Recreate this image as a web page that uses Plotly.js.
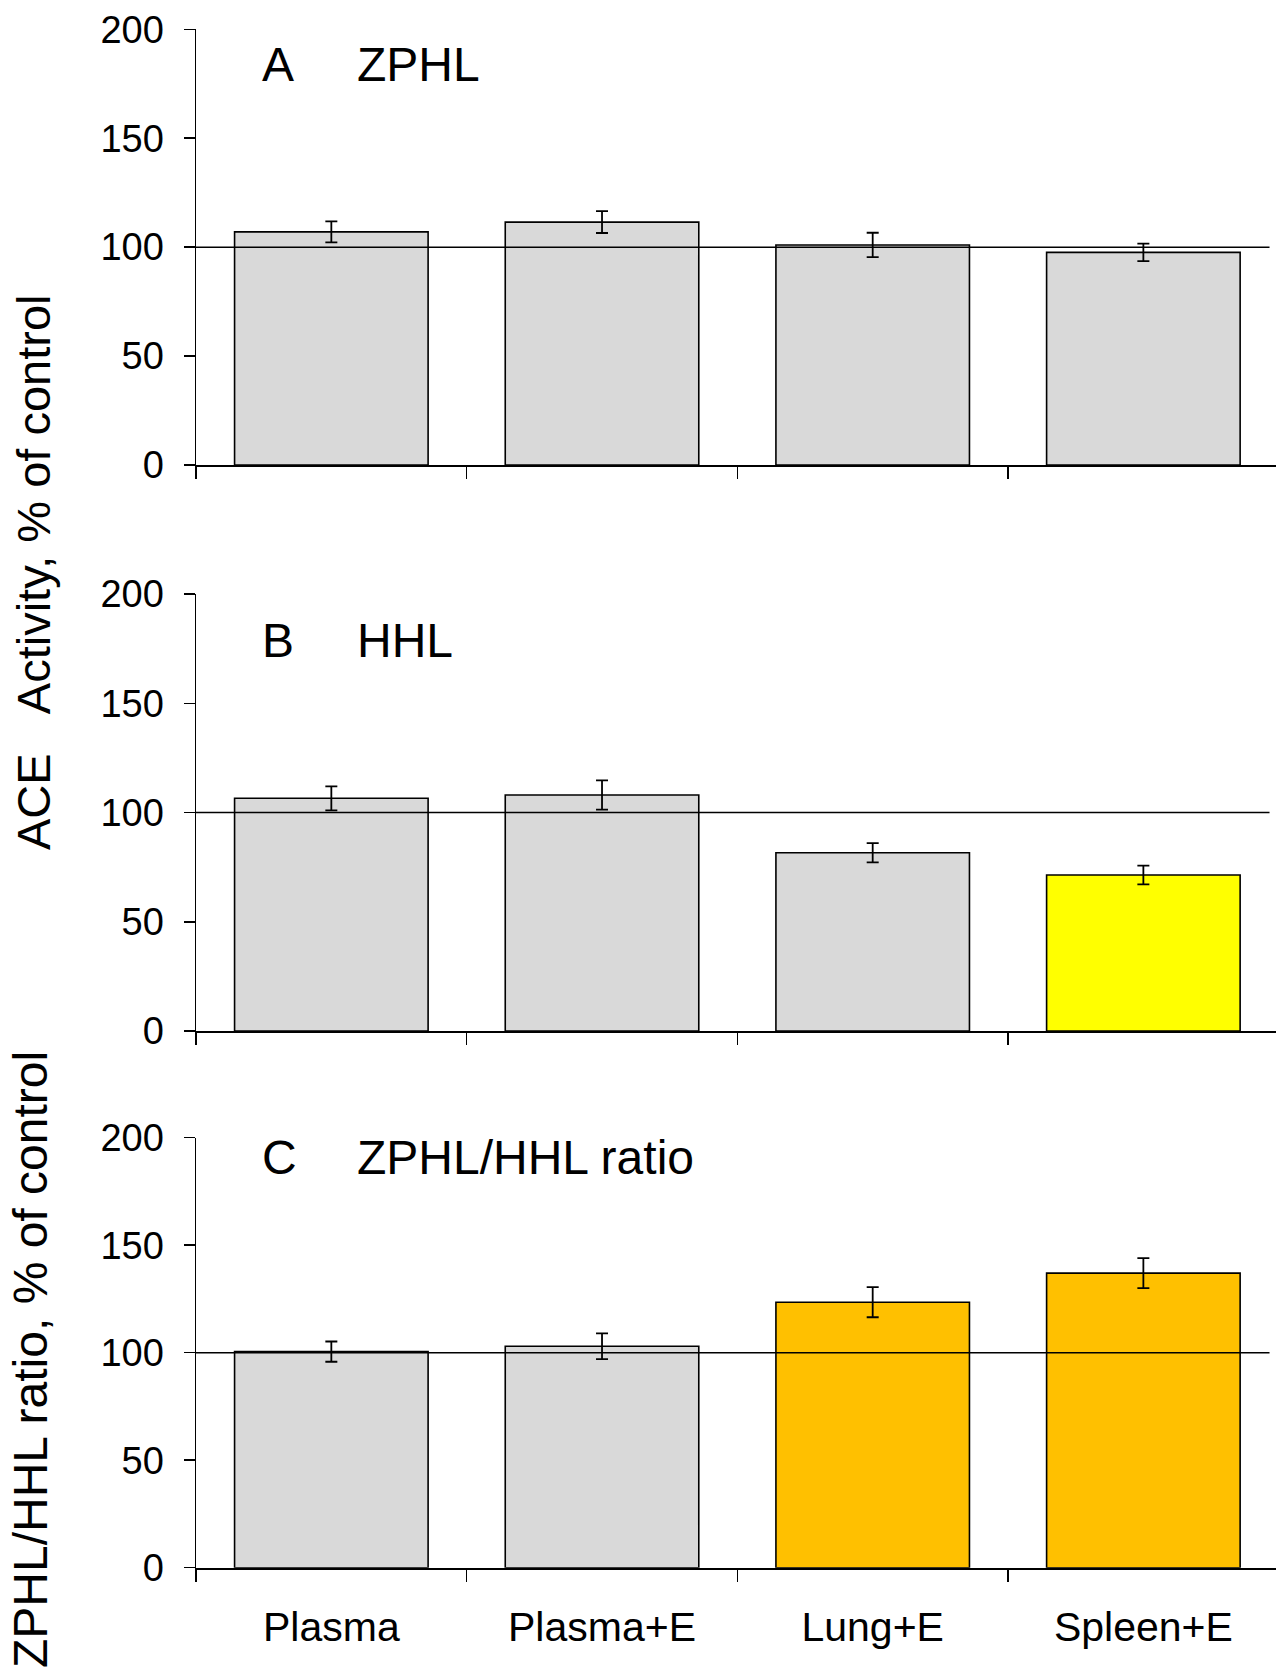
<!DOCTYPE html>
<html>
<head>
<meta charset="utf-8">
<script src="https://cdn.plot.ly/plotly-3.0.1.min.js"></script>
<style>html,body{margin:0;padding:0;background:#fff;}#chart{width:1276px;height:1667px;}</style>
</head>
<body>
<div id="chart"></div>
<script>
const categories = ['Plasma', 'Plasma+E', 'Lung+E', 'Spleen+E'];
const zphlValues = [107, 111.5, 101, 97.6];
const zphlErrors = [4.8, 5, 5.6, 4];
const hhlValues = [106.5, 108, 81.6, 71.4];
const hhlErrors = [5.5, 6.7, 4.4, 4.3];
const ratioValues = [100.5, 103, 123.5, 137];
const ratioErrors = [4.7, 6, 7, 7];
const zphlColors = ['#D9D9D9', '#D9D9D9', '#D9D9D9', '#D9D9D9'];
const hhlColors = ['#D9D9D9', '#D9D9D9', '#D9D9D9', '#FFFF00'];
const ratioColors = ['#D9D9D9', '#D9D9D9', '#FFC000', '#FFC000'];
const yTickVals = [0, 50, 100, 150, 200];
const panelLetters = ['A', 'B', 'C'];
const panelNames = ['ZPHL', 'HHL', 'ZPHL/HHL ratio'];
const yTitles = ['ACE\u00A0\u00A0\u00A0Activity, % of control', 'ZPHL/HHL ratio, % of control'];

const FONT = 'Liberation Sans, Arial, sans-serif';
const H = 1667, L = 196, PW = 1080;
function px(x) { return (x - L) / PW; }
function py(y) { return 1 - y / H; }
function bar(y, err, colors, xa, ya) {
  return {
    type: 'bar', x: categories, y: y, xaxis: xa, yaxis: ya, width: 0.715,
    marker: {color: colors, line: {color: '#000', width: 1.6}},
    error_y: {type: 'data', array: err, visible: true, color: '#000', thickness: 1.8, width: 6},
    hoverinfo: 'skip', showlegend: false
  };
}
const data = [
  bar(zphlValues, zphlErrors, zphlColors, 'x', 'y'),
  bar(hhlValues, hhlErrors, hhlColors, 'x2', 'y2'),
  bar(ratioValues, ratioErrors, ratioColors, 'x3', 'y3')
];
function xax(anchor, showLabels) {
  return {
    anchor: anchor, type: 'category', range: [-0.5, 3.49], domain: [0, 1],
    showline: true, linecolor: '#000', linewidth: 2, showgrid: false, zeroline: false,
    ticks: 'outside', tickson: 'boundaries', ticklen: 12, tickwidth: 1.5, tickcolor: '#000',
    showticklabels: showLabels, tickfont: {family: FONT, size: 41, color: '#000'},
    ticklabelstandoff: 22, fixedrange: true
  };
}
function yax(anchor, top, bottom) {
  return {
    anchor: anchor, domain: [1 - bottom / H, 1 - top / H], range: [0, 200],
    tickvals: yTickVals, ticks: 'outside', ticklen: 11, tickwidth: 1.5, tickcolor: '#000',
    showline: true, linecolor: '#000', linewidth: 1.5, showgrid: false, zeroline: false,
    tickfont: {family: FONT, size: 38, color: '#000'}, ticklabelstandoff: 12, fixedrange: true
  };
}
const tops = [29.3, 594, 1137.7];
const bottoms = [465, 1031, 1567.7];
const titleY = [64.7, 640.5, 1157.5];
const annotations = [];
for (let i = 0; i < 3; i++) {
  annotations.push({xref: 'paper', yref: 'paper', x: px(260), y: py(titleY[i]), xanchor: 'left', yanchor: 'middle',
    text: panelLetters[i], showarrow: false, font: {family: FONT, size: 48, color: '#000'}});
  annotations.push({xref: 'paper', yref: 'paper', x: px(355), y: py(titleY[i]), xanchor: 'left', yanchor: 'middle',
    text: panelNames[i], showarrow: false, font: {family: FONT, size: 48, color: '#000'}});
}
annotations.push({xref: 'paper', yref: 'paper', x: px(33), y: py(573), xanchor: 'center', yanchor: 'middle',
  text: yTitles[0], textangle: -90, showarrow: false, font: {family: FONT, size: 47, color: '#000'}});
annotations.push({xref: 'paper', yref: 'paper', x: px(30), y: py(1360), xanchor: 'center', yanchor: 'middle',
  text: yTitles[1], textangle: -90, showarrow: false, font: {family: FONT, size: 48, color: '#000'}});

const shapes = ['y', 'y2', 'y3'].map((ya, i) => ({
  type: 'line', xref: ['x', 'x2', 'x3'][i] + ' domain', yref: ya, x0: 0, x1: 0.994, y0: 100, y1: 100,
  line: {color: '#000', width: 1.5}, layer: 'above'
}));

const layout = {
  width: 1276, height: 1667,
  margin: {l: L, r: 0, t: 0, b: 0, pad: 0},
  paper_bgcolor: '#fff', plot_bgcolor: 'rgba(0,0,0,0)',
  showlegend: false,
  font: {family: FONT, color: '#000'},
  xaxis: xax('y', false), xaxis2: xax('y2', false), xaxis3: xax('y3', true),
  yaxis: yax('x', tops[0], bottoms[0]), yaxis2: yax('x2', tops[1], bottoms[1]), yaxis3: yax('x3', tops[2], bottoms[2]),
  annotations: annotations, shapes: shapes
};
Plotly.newPlot('chart', data, layout, {staticPlot: true, displayModeBar: false});
</script>
</body>
</html>
